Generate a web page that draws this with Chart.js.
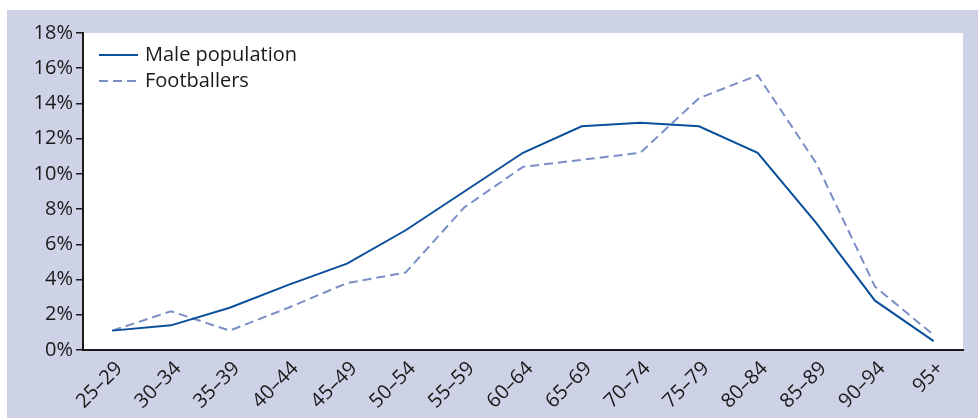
<!DOCTYPE html>
<html>
<head>
<meta charset="utf-8">
<script src="https://cdn.jsdelivr.net/npm/chart.js@4"></script>
<style>
html,body{margin:0;padding:0;background:#fff;}
#wrap{width:978px;height:418px;position:relative;}
</style>
</head>
<body>
<div id="wrap"><canvas id="c" width="978" height="418"></canvas></div>
<script>
const categories = ['25–29','30–34','35–39','40–44','45–49','50–54','55–59','60–64','65–69','70–74','75–79','80–84','85–89','90–94','95+'];
const malePopulation = [1.1, 1.4, 2.4, 3.7, 4.9, 6.8, 9.0, 11.2, 12.7, 12.9, 12.7, 11.2, 7.2, 2.8, 0.5];
const footballers = [1.1, 2.2, 1.1, 2.4, 3.8, 4.4, 8.1, 10.4, 10.8, 11.2, 14.3, 15.6, 10.6, 3.6, 0.85];
const yTicks = [0, 2, 4, 6, 8, 10, 12, 14, 16, 18];

const FONT = '"Open Sans", "Noto Sans", sans-serif';
const LAV = '#cdd2e6';

const bgPlugin = {
  id: 'bg',
  beforeDraw(chart) {
    const ctx = chart.ctx, a = chart.chartArea;
    ctx.save();
    ctx.fillStyle = '#ffffff';
    ctx.fillRect(0, 0, chart.width, chart.height);
    ctx.fillStyle = LAV;
    ctx.fillRect(7, 10, chart.width - 7, chart.height - 10);
    ctx.fillStyle = '#ffffff';
    ctx.fillRect(a.left, a.top, a.right - a.left, a.bottom - a.top);
    ctx.restore();
  }
};

const legendPlugin = {
  id: 'customLegend',
  afterDatasetsDraw(chart) {
    const ctx = chart.ctx;
    ctx.save();
    chart.data.datasets.forEach((ds, i) => {
      const y = 55 + i * 26;
      ctx.strokeStyle = ds.borderColor;
      ctx.lineWidth = ds.borderWidth;
      ctx.setLineDash(ds.borderDash || []);
      ctx.beginPath();
      ctx.moveTo(99, y);
      ctx.lineTo(138, y);
      ctx.stroke();
      ctx.setLineDash([]);
      ctx.fillStyle = '#1a1a1a';
      ctx.font = '20px ' + FONT;
      ctx.textBaseline = 'middle';
      ctx.fillText(ds.label, 145, y);
    });
    ctx.restore();
  }
};

new Chart(document.getElementById('c'), {
  type: 'line',
  data: {
    labels: categories,
    datasets: [
      {
        label: 'Male population',
        data: malePopulation,
        borderColor: '#0a4f9a',
        borderWidth: 2,
        pointRadius: 0,
        tension: 0,
        fill: false
      },
      {
        label: 'Footballers',
        data: footballers,
        borderColor: '#7b8ec6',
        borderWidth: 2,
        borderDash: [9, 5],
        pointRadius: 0,
        tension: 0,
        fill: false
      }
    ]
  },
  options: {
    responsive: false,
    animation: false,
    layout: { padding: { top: 33, right: 15, left: 0, bottom: 0 } },
    plugins: { legend: { display: false }, tooltip: { enabled: false } },
    scales: {
      x: {
        offset: true,
        grid: { display: false, drawTicks: false },
        border: { display: true, color: '#1a1a1a', width: 2 },
        ticks: {
          maxRotation: 45, minRotation: 45, autoSkip: false,
          padding: 7,
          labelOffset: 7,
          color: '#1a1a1a',
          font: { family: FONT, size: 20 }
        },
        afterFit(scale) { scale.height = 68; }
      },
      y: {
        min: 0, max: 18,
        afterBuildTicks(scale) { scale.ticks = yTicks.map(v => ({ value: v })); },
        grid: { drawOnChartArea: false, drawTicks: true, tickLength: 7, color: '#1a1a1a', lineWidth: 1.5 },
        border: { display: true, color: '#1a1a1a', width: 2 },
        ticks: {
          padding: 3,
          color: '#1a1a1a',
          font: { family: FONT, size: 20 },
          callback: v => v + '%'
        },
        afterFit(scale) { scale.width = 83; }
      }
    }
  },
  plugins: [bgPlugin, legendPlugin]
});
</script>
</body>
</html>
